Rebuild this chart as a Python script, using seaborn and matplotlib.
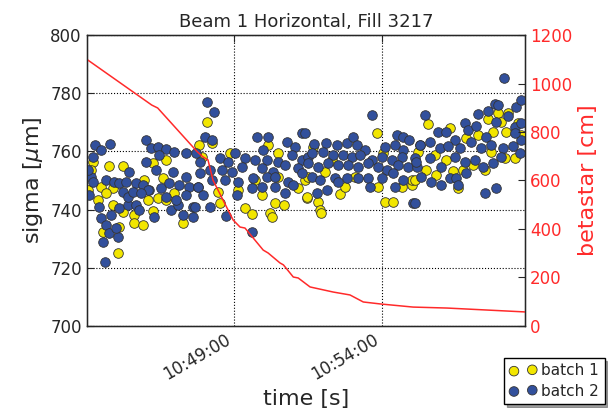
import numpy as np
import pandas as pd
import matplotlib
matplotlib.use("Agg")
import matplotlib.pyplot as plt
import matplotlib.dates as mdates
import seaborn as sns

sns.set_style("white")
plt.rcParams["font.family"] = ["DejaVu Sans"]
plt.rcParams["mathtext.fontset"] = "dejavusans"

# ---------------- data ----------------
t0 = pd.Timestamp("2012-10-27 10:44:00")

# batch 1 (yellow): seconds after 10:44:00, sigma [um]
b1_sec = [13.1, 47, 74, 9.7, 161.8, 134.8, 30, 3, 53.7, 124.7, 145, 161.8, 40.2, 23.3, 53.7, 74,
          97.6, 134.8, 195.6, 97.6, 114.5, 67.2, 33.4, 63.8, 117.9, 155.1, 178.7, 229.4,
          244.2, 255.7, 369.2, 291.5, 389.5, 234, 267.8, 271.2, 321.9, 335.4, 355.7, 382.7,
          401.7, 372.6, 377.3, 430.1, 447, 308.4, 342.2, 443.6, 389.5,
          590.2, 460.4, 450.3, 446.9, 470.5, 473.9, 476, 514.5, 524.6, 592.2, 605.7, 622.6,
          639.5, 659.8, 484.1, 544.9, 659.8, 602.4, 497.6,
          693.5, 835.5, 855.8, 815.2, 842.3, 737.5, 771.3, 795, 825.4, 852.4, 876.1, 673.3,
          707.1, 730.7, 764.5, 784.8, 808.5, 849, 869.3, 690.2, 710.4, 744.2, 754.4, 666.5,
          822, 882.8]
b1_sigma = [756.5, 755, 755, 753.6, 757, 755.9, 747.9, 746.7, 747.3, 743.3, 743.9, 743.3, 745.6, 743.3,
            741.6, 739.3, 738.1, 739.6, 735.5, 735.3, 734.7, 734.1, 732.4, 725.2, 750.2, 750.7,
            745.6, 762.2,
            770.2, 763, 762.2, 759.3, 759.3, 758.2, 746.2, 742.2, 740.4, 738.5, 745, 742.2,
            741.6, 738.9, 737.3, 747.3, 743.9, 746.7, 750.2, 750.2, 751.3,
            766.2, 761.4, 751.3, 744.4, 742.7, 739.9, 738.7, 745.4, 747.9, 747.9, 742.7, 742.7,
            747.9, 748.5, 753, 751.3, 750.2, 759.3, 757,
            769.4, 773.3, 773.1, 771, 770.2, 768, 764.5, 765.7, 766.8, 766.8, 769.7, 759.9,
            758.8, 757.1, 753.6, 755.4, 753.6, 757.6, 757.6, 753.6, 751.9, 753.1, 747.3, 750.2,
            759.9, 765.7]

# batch 2 (blue)
b2_sec = [18.5, 30, 48.3, 121.3, 13.1, 131.4, 145, 161.8, 178.7, 202.4, 148.3, 222.7, 87.5, 9.7,
          40.2, 57.1, 67.2, 80.7, 101, 114.5, 128, 151.7, 168.6, 188.9, 209.2, 226.1, 6.4, 26.6,
          50.3, 67.2, 84.1, 101, 107.8, 138.2, 172, 195.6, 215.9, 185.5, 215.9, 30, 40.2, 47,
          63.8, 60.4, 33.4, 38.1, 124.7, 141.6, 121.3, 175.4, 202.4, 74, 84.1, 94.2, 111.1,
          161.8, 182.1, 202.4, 13.1, 3,
          244.2, 259.7, 240.8, 254.3, 345.6, 369.2, 436.8, 406.4, 359.1, 423.3, 301.6, 321.9,
          342.2, 365.8, 389.5, 416.5, 436.8, 450.3, 230.6, 271.2, 288.1, 250.9, 274.6, 294.9,
          315.1, 355.7, 379.4, 403, 430.1, 230.6, 254.3, 281.3, 308.4, 338.8, 365.8, 382.7,
          409.8, 436.8, 227.3, 237.4, 305, 335.4, 355.7, 382.7, 403, 419.9, 250.9, 282.7,
          335.4, 220.5,
          580.1, 443.5, 462.4, 485.4, 507.7, 528, 541.5, 548.3, 565.2, 605.7, 629.4, 642.9,
          654.4, 676.7, 626, 642.9, 457, 480.7, 501, 521.2, 538.1, 555, 578.7, 599, 619.3,
          639.5, 666.6, 450.3, 470.5, 490.8, 511.1, 531.4, 551.7, 571.9, 592.2, 609.1, 632.8,
          653.1, 670, 457, 473.9, 504.3, 528, 551.7, 571.9, 599, 622.6, 467.2, 487.4, 511.1,
          575.3, 626, 663.2, 642.9,
          847.7, 688.1, 767.9, 794.9, 815.2, 828.7, 835.5, 872.7, 881.5, 713.8, 730.7, 747.6,
          774.7, 791.6, 811.8, 832.1, 855.8, 869.3, 882.8, 676.6, 696.9, 717.2, 734.1, 757.8,
          781.4, 801.7, 822, 845.6, 865.9, 882.8, 669.9, 696.9, 720.6, 747.6, 767.9, 788.2,
          805.1, 825.4, 842.3, 680, 700.3, 720.6, 737.5, 751, 754.4, 771.3, 808.5, 832.1,
          666.5, 869.3, 879.4]
b2_sigma = [762.2, 760.5, 762.4, 763.9, 758.2, 761.1, 761.6, 760.7, 759.9, 759.3, 758.8, 759.3, 753,
            751.3, 750.2, 749.6, 749.3, 749.6, 749, 748.5, 746.7, 747.3, 749, 748.5, 747.9, 747.9,
            745, 741, 738.1, 740.4, 741.6, 741.6, 739.9, 737.6, 739.9, 738.1, 737.6, 741.6, 741,
            737, 734.7, 731.8, 730.7, 733.6, 729, 722.1, 746.7, 753.6, 756.5, 753, 751.3, 746.2,
            744.4, 746.2, 745.6, 744.4, 743.3, 745, 749.6, 753.6,
            777.1, 773.4, 765.1, 763.9, 765.1, 765.1, 766.2, 763.3, 760.5, 761.6, 759.3, 757.6,
            757, 757, 756.5, 758.8, 757, 758.2, 756.5, 757.6, 756.5, 753.6, 753.6, 753,
            754.8, 754.2, 753, 755.3, 754.2, 752.5, 750.2, 750.2, 749.6, 750.7, 751.3, 751.3,
            749.6, 752.5, 747.9, 745, 745, 747.3, 747.9, 747.9, 745.6, 748.5, 740.8, 737.8,
            732.4, 741,
            772.5, 766.2, 762.5, 763, 762.2, 762.8, 765.1, 762.2, 760.5, 761.6, 765.6, 765.1,
            763.9, 762.2, 762.2, 760.5, 759.3, 759.9, 758.8, 758.8, 758.2, 758.8, 757, 758.2, 757,
            758.2, 757.6, 755.9, 754.8, 755.9, 755.3, 755.3, 754.8, 755.9, 754.8, 753.6, 755.3,
            754.8, 754.8, 751.3, 750.2, 750.7, 750.7, 750.7, 750.7, 750.7, 752.5, 745.6, 746.7,
            749.6, 747.9, 747.9, 742.2, 750.2,
            785.1, 772.5, 769.9, 772.8, 774, 776.3, 776, 775.2, 777.5, 766.8, 766.8, 763.9,
            767.4, 768.8, 765.1, 770.2, 772, 768.5, 769.7, 762.2, 763.4, 761.1, 761.7, 761.1,
            763.4, 761.1, 762.2, 761.1, 761.7, 763.9, 756.5, 757.6, 754.8, 758.2, 756.5, 757.1,
            754.8, 755.9, 758, 751.3, 749.6, 748.5, 750.8, 750.8, 748.5, 752.5, 745.8, 747.3,
            742.2, 766.2, 759.4]

# betastar [cm]
beta_sec = [1, 133, 145, 225, 237, 247, 257, 298, 312, 322, 359, 369, 393, 400, 420, 430,
            454, 501, 535, 562, 596, 663, 732, 890]
beta_cm = [1100, 911, 899, 719, 697, 685, 602, 437, 408, 404, 313, 301, 260, 252, 202, 198,
           161, 140, 128, 99, 91, 78, 74, 58]

yellow = "#f2e600"
blue = "#32509c"
red = "#ff2a2a"

df1 = pd.DataFrame({"time": t0 + pd.to_timedelta(b1_sec, unit="s"), "sigma": b1_sigma})
df2 = pd.DataFrame({"time": t0 + pd.to_timedelta(b2_sec, unit="s"), "sigma": b2_sigma})
dfb = pd.DataFrame({"time": t0 + pd.to_timedelta(beta_sec, unit="s"), "beta": beta_cm})

# ---------------- figure ----------------
fig = plt.figure(figsize=(6.08, 4.08), dpi=100)
ax = fig.add_axes([0.1426, 0.201, 0.7209, 0.7132])

sns.scatterplot(data=df1, x="time", y="sigma", color=yellow, edgecolor="#333333",
                linewidth=0.6, s=48, ax=ax, label="batch 1", zorder=3)
sns.scatterplot(data=df2, x="time", y="sigma", color=blue, edgecolor="#333333",
                linewidth=0.6, s=48, ax=ax, label="batch 2", zorder=4)

ax.set_ylim(700, 800)
ax.set_yticks(np.arange(700, 801, 20))
xmin = t0 + pd.Timedelta(seconds=1)
xmax = t0 + pd.Timedelta(seconds=890)
ax.set_xlim(xmin, xmax)
ax.set_xticks([t0 + pd.Timedelta(minutes=5), t0 + pd.Timedelta(minutes=10)])
ax.xaxis.set_major_formatter(mdates.DateFormatter("%H:%M:%S"))
ax.grid(True, linestyle=":", color="black", linewidth=0.8)
ax.tick_params(axis="both", direction="in", length=5, labelsize=12, top=True)
for lbl in ax.get_xticklabels():
    lbl.set_rotation(30)
    lbl.set_ha("right")
ax.set_xlabel("time [s]", fontsize=16)
ax.set_ylabel(r"sigma [$\mu$m]", fontsize=16)
ax.set_title("Beam 1 Horizontal, Fill 3217", fontsize=13)
for sp in ax.spines.values():
    sp.set_color("black")
    sp.set_linewidth(1)

handles, labels = ax.get_legend_handles_labels()
ax.legend_.remove()

ax2 = ax.twinx()
sns.lineplot(data=dfb, x="time", y="beta", color=red, linewidth=1.1, ax=ax2)
ax2.set_ylim(0, 1200)
ax2.set_yticks(np.arange(0, 1201, 200))
ax2.set_xlim(xmin, xmax)
ax2.tick_params(axis="y", direction="in", length=5, labelsize=12, labelcolor=red)
ax2.set_ylabel("betastar [cm]", fontsize=16, color=red)
ax2.grid(False)

leg = fig.legend(handles, labels, loc="upper left", bbox_to_anchor=(0.829, 0.123),
                 bbox_transform=fig.transFigure, scatterpoints=2, fontsize=11,
                 frameon=True, fancybox=False, shadow=True, borderpad=0.35,
                 borderaxespad=0, handletextpad=0.3, labelspacing=0.35,
                 handlelength=1.8)
leg.get_frame().set_edgecolor("black")
leg.get_frame().set_linewidth(1)

fig.savefig("out.png", dpi=100)
